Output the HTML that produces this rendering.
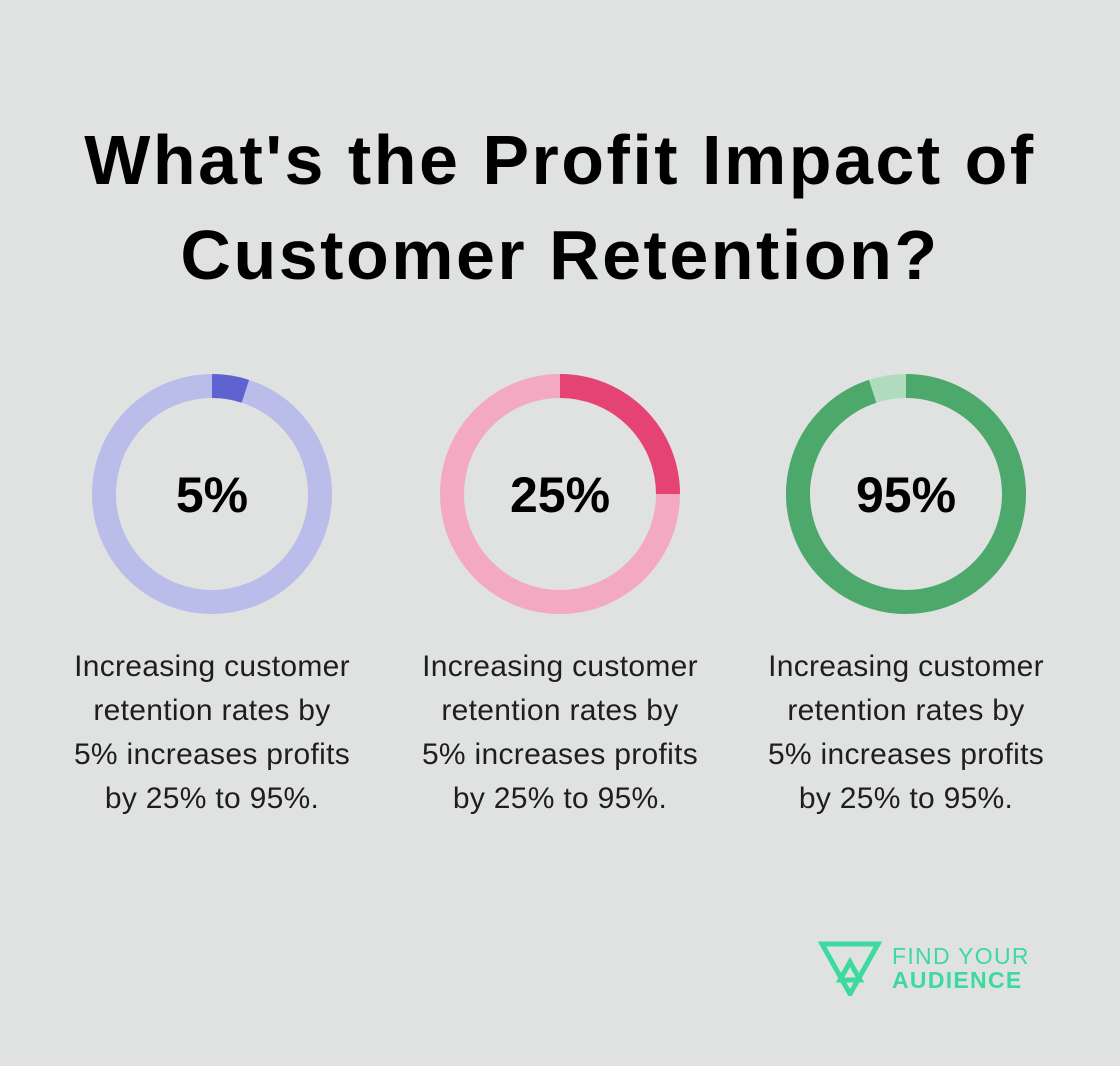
<!DOCTYPE html>
<html><head><meta charset="utf-8"><style>
body{margin:0;width:1120px;height:1066px;background:#e0e2e1;font-family:"Liberation Sans","DejaVu Sans",sans-serif;overflow:hidden;position:relative}
h1{position:absolute;top:113px;left:0;width:1120px;margin:0;text-align:center;font-size:70px;line-height:95px;font-weight:bold;color:#000;letter-spacing:2.5px;white-space:nowrap}
.desc{position:absolute;top:645px;width:360px;text-align:center;font-size:30px;line-height:44px;letter-spacing:0.3px;color:#1e1e1e;white-space:nowrap}
svg{position:absolute;left:0;top:0}
</style></head><body>
<h1>What's the Profit Impact of<br>Customer Retention?</h1>
<svg id="chart" width="1120" height="1066"></svg>
<div class="desc" style="left:32px">Increasing customer<br>retention rates by<br>5% increases profits<br>by 25% to 95%.</div>
<div class="desc" style="left:380px">Increasing customer<br>retention rates by<br>5% increases profits<br>by 25% to 95%.</div>
<div class="desc" style="left:726px">Increasing customer<br>retention rates by<br>5% increases profits<br>by 25% to 95%.</div>
<div style="position:absolute;left:818px;top:940px">
<svg width="64" height="56" viewBox="0 0 64 56" style="position:static">
<g fill="none" stroke="#3dd9a0" stroke-width="5"><path d="M4 4 L60 4 L32 54 Z"/><path d="M32 22 L22 40 L42 40 Z"/></g></svg>
<div style="position:absolute;left:74px;top:4px;color:#3dd9a0;font-size:23px;line-height:24px;letter-spacing:1.3px;white-space:nowrap">FIND YOUR<br><b style="font-size:23px">AUDIENCE</b></div>
</div>
<script>
const labels=["5%","25%","95%"];
const values=[5,25,95];
const lightColors=["#babdea","#f2a9c1","#b0dcbe"];
const darkColors=["#5f63d1","#e54373","#4ca86b"];
const svg=document.getElementById('chart');
const NS="http://www.w3.org/2000/svg";
const cxs=[212,560,906],cy=494,r=108,w=24;
function arc(cx,a0,a1){const p=a=>[cx+r*Math.sin(a*2*Math.PI/100),cy-r*Math.cos(a*2*Math.PI/100)];const s=p(a0),e=p(a1);return `M${s[0]} ${s[1]} A${r} ${r} 0 ${a1-a0>50?1:0} 1 ${e[0]} ${e[1]}`;}
values.forEach((v,i)=>{
  const cx=cxs[i];
  const bg=document.createElementNS(NS,'circle');
  bg.setAttribute('cx',cx);bg.setAttribute('cy',cy);bg.setAttribute('r',r);
  bg.setAttribute('fill','none');bg.setAttribute('stroke',lightColors[i]);bg.setAttribute('stroke-width',w);
  
  
  svg.appendChild(bg);
  const seg=document.createElementNS(NS,'path');
  seg.setAttribute('d',arc(cx,0,v));
  seg.setAttribute('stroke',darkColors[i]);
  seg.setAttribute('fill','none');seg.setAttribute('stroke-width',w);
  
  
  svg.appendChild(seg);
  const t=document.createElementNS(NS,'text');
  t.setAttribute('x',cx);t.setAttribute('y',cy+18);t.setAttribute('text-anchor','middle');
  t.setAttribute('font-size','50');t.setAttribute('font-weight','bold');t.setAttribute('font-family','Liberation Sans, sans-serif');
  t.textContent=labels[i];
  
  
  svg.appendChild(t);
});
</script>
</body></html>
